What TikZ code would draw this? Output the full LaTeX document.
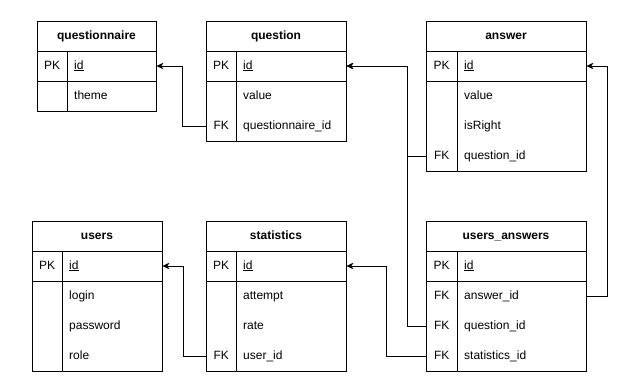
\documentclass[tikz,border=0pt]{standalone}
\usepackage{fontspec}
\setmainfont{Liberation Sans}
\usetikzlibrary{arrows.meta}
\begin{document}
\begin{tikzpicture}[x=1pt,y=-1pt,
  every node/.style={font=\fontsize{12}{14}\selectfont},
  border/.style={draw=black,line width=1pt},
  hdr/.style={inner sep=0pt,text height=8.5pt,text depth=2.5pt,font=\fontsize{12}{14}\selectfont\bfseries},
  keycell/.style={anchor=west,inner sep=0pt,minimum height=30pt,text height=8.5pt,text depth=2.5pt},
  fld/.style={anchor=west,inner xsep=7pt,inner ysep=0pt,minimum height=30pt,text height=8.5pt,text depth=2.5pt,align=left},
  fk/.style={draw=black,line width=1pt,-{Stealth[length=7pt,width=6.5pt,inset=2pt]}}]
\useasboundingbox (0,0) rectangle (625,381);

% ---------- questionnaire ----------
\draw[border] (37,21) rectangle (156,111);
\draw[border] (37,51) -- (156,51) (37,81) -- (156,81) (67,51) -- (67,111);
\node[hdr] (qn-title) at (96.5,36) {questionnaire};
\node[keycell,minimum width=30pt] (qn-pk) at (37,66) {PK};
\node[fld,text width=75pt] (qn-id) at (67,66) {\underline{id}};
\node[fld,text width=75pt] (qn-theme) at (67,96) {theme};

% ---------- question ----------
\draw[border] (206,21) rectangle (346,141);
\draw[border] (206,51) -- (346,51) (206,81) -- (346,81) (236,51) -- (236,141);
\node[hdr] (q-title) at (276,36) {question};
\node[keycell,minimum width=30pt] (q-pk) at (206,66) {PK};
\node[fld,text width=96pt] (q-id) at (236,66) {\underline{id}};
\node[fld,text width=96pt] (q-value) at (236,96) {value};
\node[keycell,minimum width=30pt] (q-fk) at (206,126) {FK};
\node[fld,text width=96pt] (q-qn) at (236,126) {questionnaire\_id};

% ---------- answer ----------
\draw[border] (426,21) rectangle (586,171);
\draw[border] (426,51) -- (586,51) (426,81) -- (586,81) (457,51) -- (457,171);
\node[hdr] (a-title) at (506,36) {answer};
\node[keycell,minimum width=31pt] (a-pk) at (426,66) {PK};
\node[fld,text width=115pt] (a-id) at (457,66) {\underline{id}};
\node[fld,text width=115pt] (a-value) at (457,96) {value};
\node[fld,text width=115pt] (a-right) at (457,126) {isRight};
\node[keycell,minimum width=31pt] (a-fk) at (426,156) {FK};
\node[fld,text width=115pt] (a-q) at (457,156) {question\_id};

% ---------- users ----------
\draw[border] (32,221) rectangle (162,371);
\draw[border] (32,251) -- (162,251) (32,281) -- (162,281) (62,251) -- (62,371);
\node[hdr] (u-title) at (97,236) {users};
\node[keycell,minimum width=30pt] (u-pk) at (32,266) {PK};
\node[fld,text width=86pt] (u-id) at (62,266) {\underline{id}};
\node[fld,text width=86pt] (u-login) at (62,296) {login};
\node[fld,text width=86pt] (u-pass) at (62,326) {password};
\node[fld,text width=86pt] (u-role) at (62,356) {role};

% ---------- statistics ----------
\draw[border] (206,221) rectangle (346,371);
\draw[border] (206,251) -- (346,251) (206,281) -- (346,281) (236,251) -- (236,371);
\node[hdr] (s-title) at (276,236) {statistics};
\node[keycell,minimum width=30pt] (s-pk) at (206,266) {PK};
\node[fld,text width=96pt] (s-id) at (236,266) {\underline{id}};
\node[fld,text width=96pt] (s-attempt) at (236,296) {attempt};
\node[fld,text width=96pt] (s-rate) at (236,326) {rate};
\node[keycell,minimum width=30pt] (s-fk) at (206,356) {FK};
\node[fld,text width=96pt] (s-user) at (236,356) {user\_id};

% ---------- users_answers ----------
\draw[border] (426,221) rectangle (586,371);
\draw[border] (426,251) -- (586,251) (426,281) -- (586,281) (457,251) -- (457,371);
\node[hdr] (ua-title) at (506,236) {users\_answers};
\node[keycell,minimum width=31pt] (ua-pk) at (426,266) {PK};
\node[fld,text width=115pt] (ua-id) at (457,266) {\underline{id}};
\node[keycell,minimum width=31pt] (ua-fk1) at (426,296) {FK};
\node[fld,text width=115pt] (ua-a) at (457,296) {answer\_id};
\node[keycell,minimum width=31pt] (ua-fk2) at (426,326) {FK};
\node[fld,text width=115pt] (ua-q) at (457,326) {question\_id};
\node[keycell,minimum width=31pt] (ua-fk3) at (426,356) {FK};
\node[fld,text width=115pt] (ua-s) at (457,356) {statistics\_id};

% ---------- foreign keys ----------
\draw[fk] (q-fk.west) -- ++(-24,0) |- (qn-id.east);
\draw[fk] (a-fk.west) -- ++(-19,0) |- (q-id.east);
\draw[fk] (ua-fk2.west) -- ++(-19,0) |- (q-id.east);
\draw[fk] (ua-a.east) -- ++(21,0) |- (a-id.east);
\draw[fk] (s-fk.west) -- ++(-23,0) |- (u-id.east);
\draw[fk] (ua-fk3.west) -- ++(-40,0) |- (s-id.east);
\end{tikzpicture}
\end{document}
